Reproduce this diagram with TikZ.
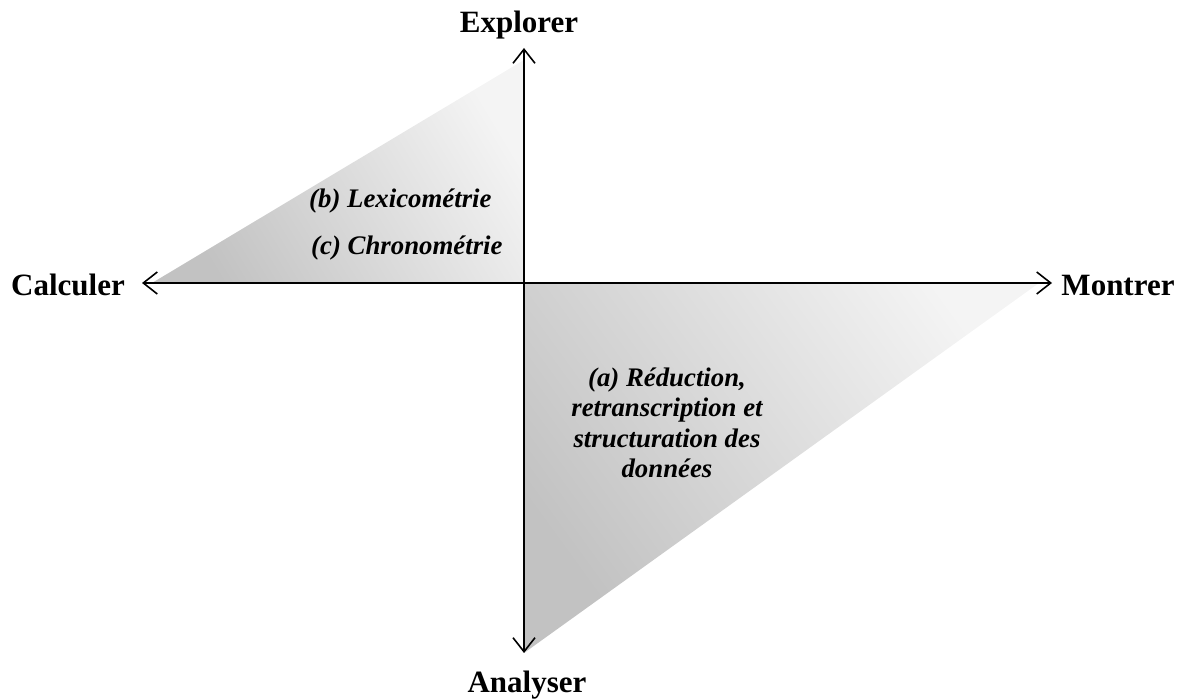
\documentclass[tikz,border=0pt]{standalone}
\usepackage{fontspec}
\setmainfont{Liberation Serif}
\usetikzlibrary{arrows.meta}
\begin{document}
\begin{tikzpicture}[x=1pt,y=1pt,
  axis/.style={line width=1.6pt, {Straight Barb[length=14pt,width=22pt]}-{Straight Barb[length=14pt,width=22pt]}},
  pole/.style={font=\fontsize{31}{36}\selectfont\bfseries, inner sep=0pt, anchor=base},
  field/.style={font=\fontsize{26.8}{30.5}\selectfont\bfseries\itshape, inner sep=0pt, align=center},
  wedge/.style={top color=gray!9, bottom color=gray!48}]
\useasboundingbox (0,0) rectangle (1188,700);

% origin and axis ends
\coordinate (O) at (524,417);
\coordinate (N) at (524,652);
\coordinate (S) at (524,47);
\coordinate (W) at (142,417);
\coordinate (E) at (1052,417);

% shaded quadrant wedges
\shade[wedge, shading angle=-59] (524,640) -- (152,417) -- (O) -- cycle;
\shade[wedge, shading angle=-54] (O) -- (1039,417) -- (524,47) -- cycle;

% axes
\draw[axis] (S) -- (N);
\draw[axis] (W) -- (E);

% pole labels
\node[pole] (explorer) at (519,667) {Explorer};
\node[pole] (analyser) at (527,7) {Analyser};
\node[pole] (calculer) at (68,404) {Calculer};
\node[pole] (montrer) at (1118,404) {Montrer};

% quadrant contents
\node[field, anchor=base west] (lexico) at (309,492) {(b) Lexicométrie};
\node[field, anchor=base west] (chrono) at (311,445) {(c) Chronométrie};
\node[field, anchor=base] (reduc) at (667,222) {(a) Réduction,\\retranscription et\\structuration des\\données};
\end{tikzpicture}
\end{document}
